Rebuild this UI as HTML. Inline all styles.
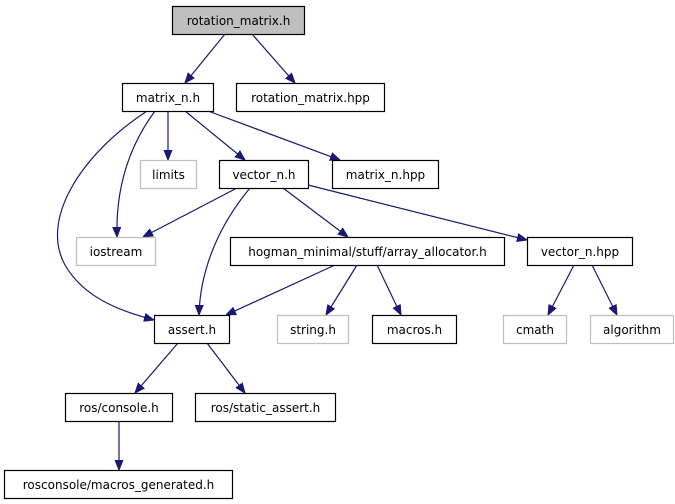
<!DOCTYPE html>
<html><head><meta charset="utf-8"><style>
html,body{margin:0;padding:0;background:#fff;}
svg{display:block;}
text{font-family:"DejaVu Sans","Liberation Sans",sans-serif;font-size:12px;fill:#000;}
</style></head><body>
<svg width="675" height="504" viewBox="0 0 675 504" xmlns="http://www.w3.org/2000/svg">
<defs>
<marker id="a" viewBox="0 0 10 10" refX="10" refY="5" markerWidth="10" markerHeight="10" markerUnits="userSpaceOnUse" orient="auto">
<path d="M0,1 L10,5 L0,9 z" fill="#191970" stroke="#191970"/>
</marker>
</defs>
<g fill="none" stroke="#191970" stroke-width="1.2" marker-end="url(#a)">
<path d="M225,34 L185,83"/>
<path d="M252,34 L295,83"/>
<path d="M168,111 L168,160"/>
<path d="M185,111 L245,160"/>
<path d="M208,111 L340,160"/>
<path d="M155,111 Q115,165 117,237"/>
<path d="M147,111 C80,155 40,220 65,265 C85,300 125,312 154,320"/>
<path d="M237,188 L143,237"/>
<path d="M250,188 C215,230 200,275 199,315"/>
<path d="M283,188 L348,237"/>
<path d="M308,185 L527,240"/>
<path d="M335,265 L226,315"/>
<path d="M357,265 L326,315"/>
<path d="M377,265 L401,315"/>
<path d="M574,265 L548,315"/>
<path d="M592,265 L617,315"/>
<path d="M178,343 L135,393"/>
<path d="M207,343 L245,393"/>
<path d="M119,421 L119,470"/>
</g>
<g stroke-width="1.2">
<rect x="172.5" y="6.5" width="132" height="28" fill="#bfbfbf" stroke="#000"/>
<rect x="122.5" y="83.5" width="91" height="28" fill="#fff" stroke="#000"/>
<rect x="236.5" y="83.5" width="148" height="28" fill="#fff" stroke="#000"/>
<rect x="140.5" y="160.5" width="56" height="28" fill="#fff" stroke="#bfbfbf"/>
<rect x="219.5" y="160.5" width="89" height="28" fill="#fff" stroke="#000"/>
<rect x="332.5" y="160.5" width="106" height="28" fill="#fff" stroke="#000"/>
<rect x="76.5" y="237.5" width="79" height="28" fill="#fff" stroke="#bfbfbf"/>
<rect x="230.5" y="237.5" width="274" height="28" fill="#fff" stroke="#000"/>
<rect x="527.5" y="237.5" width="105" height="28" fill="#fff" stroke="#000"/>
<rect x="154.5" y="315.5" width="75" height="28" fill="#fff" stroke="#000"/>
<rect x="277.5" y="315.5" width="71" height="28" fill="#fff" stroke="#bfbfbf"/>
<rect x="372.5" y="315.5" width="84" height="28" fill="#fff" stroke="#000"/>
<rect x="503.5" y="315.5" width="63" height="28" fill="#fff" stroke="#bfbfbf"/>
<rect x="590.5" y="315.5" width="83" height="28" fill="#fff" stroke="#bfbfbf"/>
<rect x="65.5" y="393.5" width="107" height="28" fill="#fff" stroke="#000"/>
<rect x="195.5" y="393.5" width="140" height="28" fill="#fff" stroke="#000"/>
<rect x="4.5" y="470.5" width="228" height="28" fill="#fff" stroke="#000"/>
</g>
<g text-anchor="middle">
<text x="238.5" y="25">rotation_matrix.h</text>
<text x="168" y="102">matrix_n.h</text>
<text x="310.5" y="102">rotation_matrix.hpp</text>
<text x="168.5" y="179">limits</text>
<text x="264" y="179">vector_n.h</text>
<text x="385.5" y="179">matrix_n.hpp</text>
<text x="116" y="256">iostream</text>
<text x="367.5" y="256">hogman_minimal/stuff/array_allocator.h</text>
<text x="580" y="256">vector_n.hpp</text>
<text x="192" y="334">assert.h</text>
<text x="313" y="334">string.h</text>
<text x="414.5" y="334">macros.h</text>
<text x="535" y="334">cmath</text>
<text x="632" y="334">algorithm</text>
<text x="119" y="412">ros/console.h</text>
<text x="265.5" y="412">ros/static_assert.h</text>
<text x="118.5" y="489">rosconsole/macros_generated.h</text>
</g>
</svg>
</body></html>
